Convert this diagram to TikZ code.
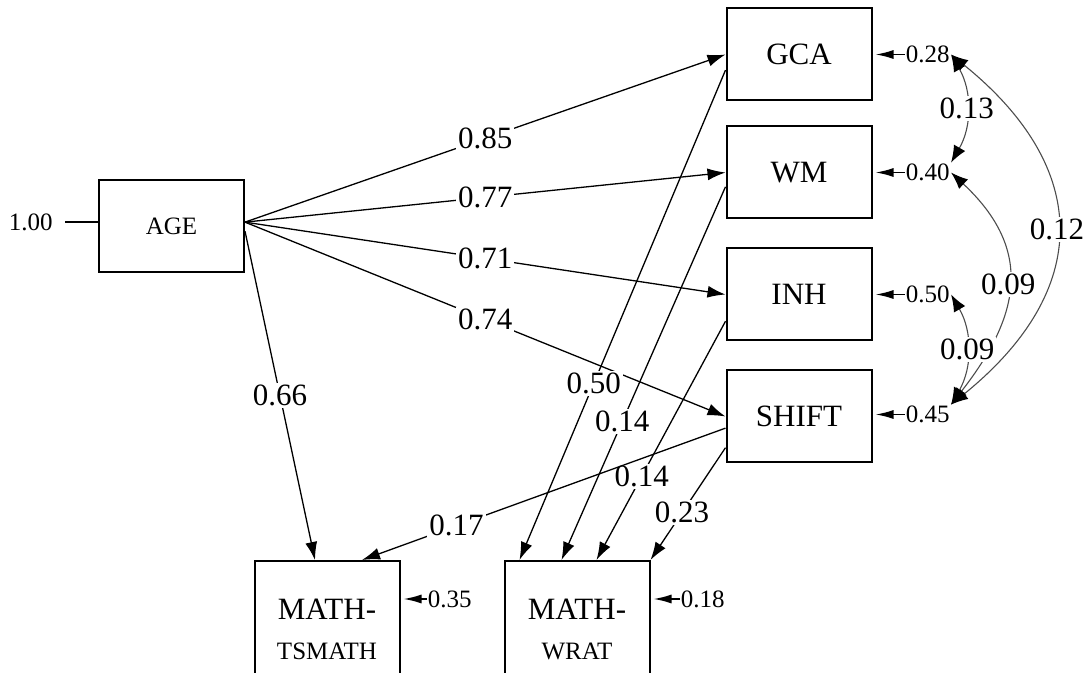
\documentclass[tikz,border=0pt]{standalone}
\usepackage{fontspec}
\setmainfont{Liberation Serif}
\usetikzlibrary{arrows.meta, positioning}

\begin{document}
\begin{tikzpicture}[
    x=0.5pt, y=-0.5pt,
    box/.style={rectangle, draw, line width=1pt, minimum width=72.5pt,
                minimum height=46pt, align=center, inner sep=2pt,
                font=\fontsize{15.5}{20}\selectfont},
    arr/.style={-{Latex[length=9pt,width=6pt]}, line width=0.65pt},
    res/.style={-{Latex[length=9pt,width=4.5pt]}, line width=0.8pt, shorten >=1.5pt},
    cov/.style={{Latex[length=8.5pt,width=6.5pt,color=black]}-{Latex[length=8.5pt,width=6.5pt,color=black]},
                line width=0.55pt, draw=black!70},
    lbl/.style={fill=white, text=black, inner sep=1pt, font=\fontsize{15.5}{18}\selectfont},
    rlbl/.style={inner sep=0.5pt, font=\fontsize{12.5}{15}\selectfont}
]
    \useasboundingbox (0,0) rectangle (1084,673);

    \node[box, font=\fontsize{12.5}{15}\selectfont] (age) at (171.5,226) {AGE};
    \node[box] (gca) at (799,54.5) {GCA};
    \node[box, below=12pt of gca] (wm) {WM};
    \node[box, below=14pt of wm] (inh) {INH};
    \node[box, below=14pt of inh] (shift) {SHIFT};
    \node[box, minimum height=68pt] (tsmath) at (327,629)
        {MATH-\\{\fontsize{12.5}{15}\selectfont TSMATH}};
    \node[box, minimum height=68pt, right=51.5pt of tsmath] (wrat)
        {MATH-\\{\fontsize{12.5}{15}\selectfont WRAT}};

    \node[rlbl, left=22pt of age, yshift=2pt] (v-age) {1.00};
    \node[rlbl, right=16pt of gca] (e-gca) {0.28};
    \node[rlbl, right=16pt of wm] (e-wm) {0.40};
    \node[rlbl, right=16pt of inh] (e-inh) {0.50};
    \node[rlbl, right=16pt of shift, yshift=1pt] (e-shift) {0.45};
    \node[rlbl, anchor=west] (e-tsmath) at ([xshift=13pt,yshift=-19.5pt]tsmath.north east) {0.35};
    \node[rlbl, anchor=west] (e-wrat) at ([xshift=14.5pt,yshift=-19.5pt]wrat.north east) {0.18};

    \draw[line width=0.65pt, shorten <=5.5pt] (v-age.east) -- (v-age.east -| age.west);
    \draw[res] (e-gca) -- (gca);
    \draw[res] (e-wm) -- (wm);
    \draw[res] (e-inh) -- (inh);
    \draw[res] (e-shift.west) -- (e-shift.west -| shift.east);
    \draw[res] (e-tsmath) -- (e-tsmath -| tsmath.east);
    \draw[res] (e-wrat) -- (e-wrat -| wrat.east);

    \draw[arr] (age.3) -- node[lbl] {0.85} (gca.west);
    \draw[arr] (age.3) -- node[lbl] {0.77} (wm.west);
    \draw[arr] (age.3) -- node[lbl] {0.71} (inh.west);
    \draw[arr] (age.3) -- node[lbl] {0.74} (shift.west);
    \draw[arr] (age.-4) -- node[lbl] {0.66} ([xshift=-6pt]tsmath.north);
    \draw[arr] (gca.192) -- node[lbl, pos=0.64] {0.50} ([xshift=-28.75pt]wrat.north);
    \draw[arr] (wm.191) -- node[lbl, pos=0.63] {0.14} ([xshift=-7.75pt]wrat.north);
    \draw[arr] (inh.200) -- node[lbl, pos=0.65] {0.14} ([xshift=9.75pt]wrat.north);
    \draw[arr] (shift.203) -- node[lbl, pos=0.58] {0.23} (wrat.north east);
    \draw[arr] (shift.189) -- node[lbl, pos=0.74] {0.17} ([xshift=17.5pt]tsmath.north);

    \draw[cov] (e-gca.east) to[out=-60, in=60] node[lbl] {0.13} (e-wm.north east);
    \draw[cov] (e-gca.east) to[out=-39, in=39, looseness=1.33] node[lbl] {0.12} (e-shift.north east);
    \draw[cov] (e-wm.east) to[out=-43, in=52, looseness=1.25] node[lbl] {0.09} (e-shift.north east);
    \draw[cov] (e-inh.east) to[out=-60, in=60] node[lbl] {0.09} (e-shift.north east);
\end{tikzpicture}
\end{document}
